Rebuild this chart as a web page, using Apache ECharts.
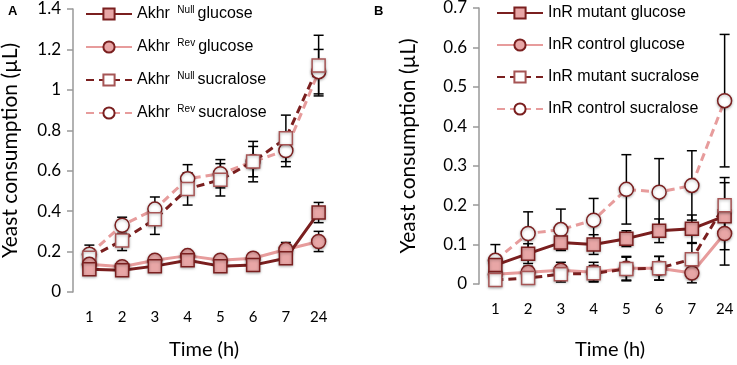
<!DOCTYPE html>
<html>
<head>
<meta charset="utf-8">
<script src="https://cdn.jsdelivr.net/npm/echarts@6/dist/echarts.min.js"></script>
<style>
    html, body { margin: 0; padding: 0; background: #fff; }
    #chart { width: 737px; height: 365px; }
</style>
</head>
<body>
<div id="chart"></div>
<script>
// data (mean, sem)
const timeLabels = ['1', '2', '3', '4', '5', '6', '7', '24'];

const akhrNullGlu = [0.113, 0.108, 0.128, 0.157, 0.128, 0.133, 0.167, 0.393];
const akhrNullGluSem = [0.02, 0.02, 0.02, 0.02, 0.02, 0.02, 0.02, 0.05];
const akhrRevGlu = [0.137, 0.125, 0.157, 0.18, 0.157, 0.167, 0.21, 0.25];
const akhrRevGluSem = [0.02, 0.02, 0.02, 0.02, 0.02, 0.025, 0.035, 0.05];
const akhrNullSuc = [0.17, 0.255, 0.36, 0.51, 0.555, 0.645, 0.76, 1.12];
const akhrNullSucSem = [0.03, 0.05, 0.075, 0.08, 0.08, 0.1, 0.115, 0.15];
const akhrRevSuc = [0.187, 0.33, 0.41, 0.56, 0.585, 0.645, 0.70, 1.09];
const akhrRevSucSem = [0.045, 0.04, 0.06, 0.07, 0.07, 0.075, 0.08, 0.11];

const inrMutGlu = [0.048, 0.077, 0.105, 0.10, 0.115, 0.135, 0.14, 0.172];
const inrMutGluSem = [0.02, 0.025, 0.02, 0.025, 0.02, 0.03, 0.035, 0.085];
const inrCtrlGlu = [0.025, 0.03, 0.035, 0.03, 0.04, 0.04, 0.028, 0.128];
const inrCtrlGluSem = [0.02, 0.015, 0.02, 0.025, 0.03, 0.03, 0.025, 0.08];
const inrMutSuc = [0.01, 0.015, 0.025, 0.027, 0.038, 0.04, 0.063, 0.20];
const inrMutSucSem = [0.01, 0.015, 0.02, 0.02, 0.03, 0.03, 0.04, 0.07];
const inrCtrlSuc = [0.06, 0.128, 0.138, 0.162, 0.24, 0.233, 0.25, 0.465];
const inrCtrlSucSem = [0.04, 0.055, 0.052, 0.055, 0.088, 0.085, 0.088, 0.168];

const dark = '#7a1f1f';
const light = '#e79c9c';
const fill = '#e8a6a6';
const tickFont = 'Lato, "Open Sans", sans-serif';
const legendFont = '"Liberation Sans", Arial, sans-serif';

const myChart = echarts.init(document.getElementById('chart'));

function errData(mean, sem) {
    return mean.map((m, i) => [i, m - sem[i], m + sem[i]]);
}

function renderErr(params, api) {
    const lo = api.coord([api.value(0), api.value(1)]);
    const hi = api.coord([api.value(0), api.value(2)]);
    const w = 5;
    const st = { stroke: '#000', lineWidth: 1.5 };
    return {
        type: 'group',
        children: [
            { type: 'line', shape: { x1: hi[0], y1: hi[1], x2: lo[0], y2: lo[1] }, style: st },
            { type: 'line', shape: { x1: hi[0] - w, y1: hi[1], x2: hi[0] + w, y2: hi[1] }, style: st },
            { type: 'line', shape: { x1: lo[0] - w, y1: lo[1], x2: lo[0] + w, y2: lo[1] }, style: st },
        ],
    };
}

function errSeries(idx, mean, sem) {
    return {
        type: 'custom',
        xAxisIndex: idx,
        yAxisIndex: idx,
        renderItem: renderErr,
        encode: { x: 0, y: [1, 2] },
        data: errData(mean, sem),
        z: 1,
        silent: true,
    };
}

function lineSeries(idx, name, data, opts) {
    return {
        name: name,
        type: 'line',
        xAxisIndex: idx,
        yAxisIndex: idx,
        data: data,
        symbol: opts.symbol,
        symbolSize: opts.symbol === 'rect' ? 13 : 14,
        lineStyle: { color: opts.color, width: 3, type: opts.dashed ? [8, 5] : 'solid' },
        itemStyle: {
            color: opts.filled ? fill : '#fff',
            borderColor: opts.symbol === 'rect' && !opts.filled ? '#a65555' : dark,
            borderWidth: 1.5,
            shadowColor: 'rgba(0,0,0,0.3)',
            shadowBlur: 3,
            shadowOffsetY: 1,
        },
        z: opts.z,
        animation: false,
    };
}

function xAxisCfg(idx) {
    return {
        type: 'category',
        gridIndex: idx,
        data: timeLabels,
        boundaryGap: true,
        axisLine: { show: false },
        axisTick: { show: false },
        axisLabel: { color: '#000', fontSize: 15, fontFamily: tickFont, margin: 18 },
        name: 'Time (h)',
        nameLocation: 'middle',
        nameGap: idx === 0 ? 48 : 56,
        nameMoveOverlap: false,
        nameTextStyle: { color: '#000', fontSize: 20, fontFamily: tickFont },
    };
}

function yAxisCfg(idx, max, interval) {
    return {
        type: 'value',
        gridIndex: idx,
        min: 0,
        max: max,
        interval: interval,
        axisLine: { show: true, lineStyle: { color: '#999', width: 1.5 } },
        axisTick: { show: true, inside: false, length: 6, lineStyle: { color: '#999', width: 1.5 } },
        splitLine: { show: false },
        axisLabel: { color: '#000', fontSize: 17, fontFamily: tickFont, margin: 12 },
        name: 'Yeast consumption (\u00b5L)',
        nameLocation: 'middle',
        nameGap: idx === 0 ? 52 : 60,
        nameMoveOverlap: false,
        nameTextStyle: { color: '#000', fontSize: 21, fontFamily: tickFont },
    };
}

const richSup = {
    sup: { fontSize: 10, verticalAlign: 'top', padding: [0, 3, 8, 3], fontFamily: legendFont, color: '#000' },
};

function legendCfg(left, names) {
    return {
        data: names,
        orient: 'vertical',
        left: left,
        top: 0,
        itemWidth: 46,
        itemHeight: 14,
        itemGap: 16,
        textStyle: { color: '#000', fontSize: 16, fontFamily: legendFont, rich: richSup },
        formatter: function (n) {
            return n.replace(/^Akhr (Null|Rev) /, 'Akhr {sup|$1}');
        },
    };
}

const namesA = ['Akhr Null glucose', 'Akhr Rev glucose', 'Akhr Null sucralose', 'Akhr Rev sucralose'];
const namesB = ['InR mutant glucose', 'InR control glucose', 'InR mutant sucralose', 'InR control sucralose'];

const option = {
    animation: false,
    grid: [
        { left: 73, top: 9, width: 262, height: 283, outerBoundsMode: 'none', containLabel: false },
        { left: 479, top: 8, width: 262, height: 276, outerBoundsMode: 'none', containLabel: false },
    ],
    legend: [legendCfg(80, namesA), legendCfg(491, namesB)],
    xAxis: [xAxisCfg(0), xAxisCfg(1)],
    yAxis: [yAxisCfg(0, 1.4, 0.2), yAxisCfg(1, 0.7, 0.1)],
    graphic: [
        { type: 'text', left: 8, top: 5, style: { text: 'A', fontSize: 13, fontWeight: 'bold', fontFamily: legendFont, fill: '#000' } },
        { type: 'text', left: 374, top: 5, style: { text: 'B', fontSize: 13, fontWeight: 'bold', fontFamily: legendFont, fill: '#000' } },
    ],
    series: [
        errSeries(0, akhrNullGlu, akhrNullGluSem),
        errSeries(0, akhrRevGlu, akhrRevGluSem),
        errSeries(0, akhrNullSuc, akhrNullSucSem),
        errSeries(0, akhrRevSuc, akhrRevSucSem),
        lineSeries(0, namesA[3], akhrRevSuc, { symbol: 'circle', color: light, dashed: true, filled: false, z: 3 }),
        lineSeries(0, namesA[2], akhrNullSuc, { symbol: 'rect', color: dark, dashed: true, filled: false, z: 3 }),
        lineSeries(0, namesA[1], akhrRevGlu, { symbol: 'circle', color: light, dashed: false, filled: true, z: 4 }),
        lineSeries(0, namesA[0], akhrNullGlu, { symbol: 'rect', color: dark, dashed: false, filled: true, z: 4 }),

        errSeries(1, inrMutGlu, inrMutGluSem),
        errSeries(1, inrCtrlGlu, inrCtrlGluSem),
        errSeries(1, inrMutSuc, inrMutSucSem),
        errSeries(1, inrCtrlSuc, inrCtrlSucSem),
        lineSeries(1, namesB[3], inrCtrlSuc, { symbol: 'circle', color: light, dashed: true, filled: false, z: 3 }),
        lineSeries(1, namesB[1], inrCtrlGlu, { symbol: 'circle', color: light, dashed: false, filled: true, z: 3 }),
        lineSeries(1, namesB[0], inrMutGlu, { symbol: 'rect', color: dark, dashed: false, filled: true, z: 4 }),
        lineSeries(1, namesB[2], inrMutSuc, { symbol: 'rect', color: dark, dashed: true, filled: false, z: 4 }),
    ],
};

myChart.setOption(option);
</script>
</body>
</html>
